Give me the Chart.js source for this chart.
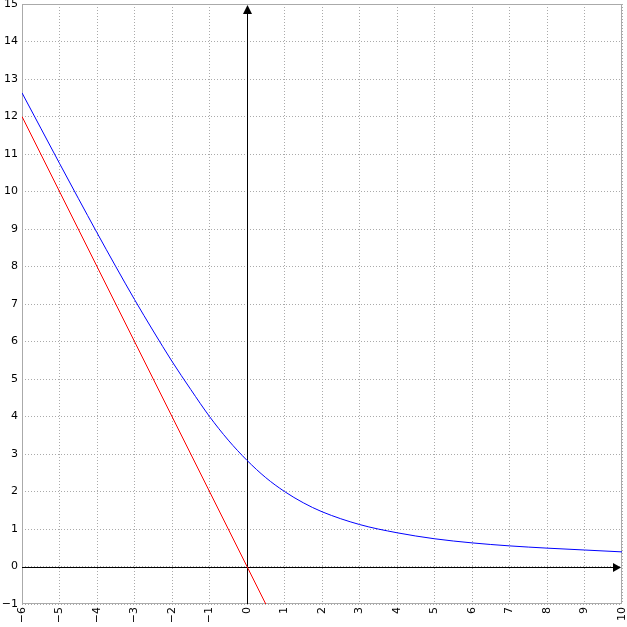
<!DOCTYPE html>
<html>
<head>
<meta charset="utf-8">
<script src="https://cdn.jsdelivr.net/npm/chart.js@4"></script>
<style>
  html, body { margin: 0; padding: 0; background: #fff; }
  #wrap { width: 627px; height: 627px; }
</style>
</head>
<body>
<div id="wrap"><canvas id="chart"></canvas></div>
<script>
// values
const blueX = [-6, -5.5, -5, -4.5, -4, -3.5, -3, -2.5, -2, -1.5, -1, -0.5, 0, 0.5, 1, 1.5, 2, 3, 4, 5, 6, 7, 8, 9, 10];
const blueY = [12.63, 11.69, 10.75, 9.82, 8.9, 8.0, 7.12, 6.28, 5.47, 4.72, 4.0, 3.37, 2.83, 2.37, 2.0, 1.7, 1.46, 1.12, 0.9, 0.74, 0.63, 0.55, 0.49, 0.44, 0.39];
const redX = [-6, 0, 0.5];
const redY = [12, 0, -1];

const xMin = -6, xMax = 10;
const yMin = -1, yMax = 15;

function toPoints(xs, ys) {
  return xs.map((x, i) => ({ x, y: ys[i] }));
}

function minus(v) {
  return String(v).replace("-", "\u2212");
}

const axesPlugin = {
  id: "axes",
  beforeDatasetsDraw(chart) {
    const { ctx, chartArea: a, scales } = chart;
    ctx.save();
    // grey frame
    ctx.strokeStyle = "#aaaaaa";
    ctx.lineWidth = 1;
    ctx.strokeRect(a.left + 0.5, a.top + 0.5, a.right - a.left - 1, a.bottom - a.top - 1);

    // zero axes with arrows
    const x0 = Math.round(scales.x.getPixelForValue(0)) + 0.5;
    const y0 = Math.round(scales.y.getPixelForValue(0)) + 0.5;
    ctx.strokeStyle = "#000";
    ctx.fillStyle = "#000";
    ctx.beginPath();
    ctx.moveTo(a.left, y0);
    ctx.lineTo(a.right - 2, y0);
    ctx.moveTo(x0, a.bottom);
    ctx.lineTo(x0, a.top + 2);
    ctx.stroke();

    ctx.beginPath();
    ctx.moveTo(a.right - 1, y0);
    ctx.lineTo(a.right - 9, y0 - 4.5);
    ctx.lineTo(a.right - 9, y0 + 4.5);
    ctx.closePath();
    ctx.fill();

    ctx.beginPath();
    ctx.moveTo(x0, a.top + 1);
    ctx.lineTo(x0 - 4.5, a.top + 10);
    ctx.lineTo(x0 + 4.5, a.top + 10);
    ctx.closePath();
    ctx.fill();
    ctx.restore();
  },
};

new Chart(document.getElementById("chart"), {
  type: "line",
  data: {
    datasets: [
      {
        data: toPoints(redX, redY),
        borderColor: "#ff0000",
        borderWidth: 1,
        pointRadius: 0,
        tension: 0,
      },
      {
        data: toPoints(blueX, blueY),
        borderColor: "#0000ff",
        borderWidth: 1,
        pointRadius: 0,
        cubicInterpolationMode: "monotone",
      },
    ],
  },
  options: {
    responsive: true,
    maintainAspectRatio: false,
    animation: false,
    events: [],
    layout: { padding: { top: 4, right: 5, left: 0, bottom: 0 } },
    plugins: {
      legend: { display: false },
      tooltip: { enabled: false },
    },
    scales: {
      x: {
        type: "linear",
        min: xMin,
        max: xMax,
        afterFit: (scale) => {
          scale.height = 23;
          scale.paddingLeft = 0;
          scale.paddingRight = 0;
        },
        grid: { color: "#aaaaaa", lineWidth: 1, drawTicks: false },
        border: { display: false, dash: [1, 2] },
        ticks: {
          stepSize: 1,
          minRotation: 90,
          maxRotation: 90,
          padding: 3,
          color: "#000",
          font: { family: "DejaVu Sans", size: 11 },
          callback: (v) => minus(v),
        },
      },
      y: {
        type: "linear",
        min: yMin,
        max: yMax,
        afterFit: (scale) => {
          scale.width = 22;
          scale.paddingTop = 0;
          scale.paddingBottom = 0;
        },
        grid: { color: "#aaaaaa", lineWidth: 1, drawTicks: false },
        border: { display: false, dash: [1, 2] },
        ticks: {
          stepSize: 1,
          padding: 4,
          color: "#000",
          font: { family: "DejaVu Sans", size: 11 },
          callback: (v) => minus(v),
        },
      },
    },
  },
  plugins: [axesPlugin],
});
</script>
</body>
</html>
